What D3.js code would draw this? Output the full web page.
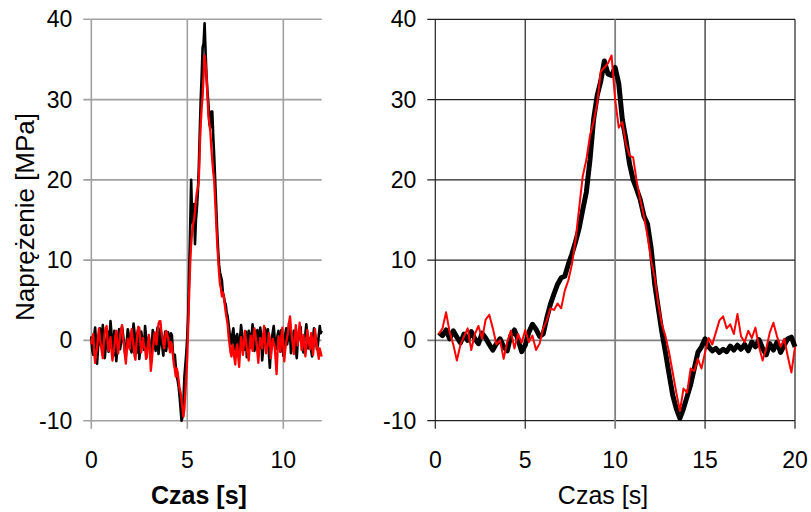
<!DOCTYPE html>
<html>
<head>
<meta charset="utf-8">
<script src="https://cdn.jsdelivr.net/npm/d3@7"></script>
<style>
  body { margin: 0; background: #fff; }
  svg { display: block; font-family: "Liberation Sans", Arial, sans-serif; }
</style>
</head>
<body>
<svg id="chart" width="811" height="512"></svg>
<script>
// y ticks shared by both panels
const yTicks = [-10, 0, 10, 20, 30, 40];

// left panel: samples every 0.05 s starting at 0 s
const leftStart = 0, leftStep = 0.05;
const leftTicks = [0, 5, 10];
const leftBlack = [
  // 0 - 4 s
  0.5, -1.2, -1.8, 0.6, 1.6, -0.4, -2.9, -1.0, 0.8, 1.5,
  -0.6, 0.2, 1.9, -0.8, -2.2, -0.9, 0.3, 1.1, -1.4, 0.4,
  2.4, 0.9, -0.9, -1.9, 1.2, 0.5, -2.6, -1.3, 0.6, 1.4,
  -1.1, -0.2, 1.7, 0.8, -0.3, -1.5, -2.0, -0.1, 1.4, 0.7,
  0.2, -0.9, -1.5, 0.5, 2.1, 1.0, -0.7, -1.6, 0.9, 1.5,
  -2.3, -1.1, 1.1, 0.3, -0.4, -1.2, 1.8, 0.6, -1.2, -0.5,
  0.4, -1.0, -2.4, -0.8, 1.3, 0.6, -0.2, -1.3, 0.7, 1.6,
  -1.7, -0.6, 1.5, 0.4, -0.8, -1.9, 0.1, 1.1, -1.3, -0.1,
  1.0,
  // 4.05 - 7.5 s
  0.2, -1.0, 0.9, 0.6, -1.5, -2.2, -1.8, -3.3, -4.5, -5.0,
  -5.8, -7.0, -8.5, -10.0, -9.6, -7.5, -4.5, -3.0, -1.5, 0.5,
  3.5, 9.0, 14.0, 20.0, 15.5, 14.5, 17.0, 12.0, 15.0, 16.5,
  18.5, 21.5, 26.0, 30.0, 33.0, 36.5, 37.0, 39.5, 36.0, 33.0,
  31.0, 29.5, 27.0, 26.5, 28.5, 28.5, 25.5, 23.0, 20.0, 17.0,
  14.0, 11.5, 9.5, 8.5, 8.0, 7.5, 6.0, 5.5, 4.8, 4.5,
  3.5, 3.0, 2.0, 1.0, 0.2, -0.5, 0.8, 1.5, -0.3, -1.2,
  // 7.55 - 12 s
  0.5, 0.8, -0.7, -1.6, 0.4, 1.9, 0.9, -0.4, -1.2, 0.3,
  1.1, -2.1, -0.8, 1.2, 0.4, -0.9, 0.6, 2.0, 0.7, -1.3,
  -0.4, 0.5, 1.3, -0.2, -1.0, 1.6, 0.6, -2.5, -1.1, 0.9,
  1.5, -0.7, 0.2, 1.4, -1.6, -3.4, -0.9, 0.2, 1.0, 1.8,
  0.3, -1.1, -0.4, 0.6, 1.2, -0.3, -1.4, 1.3, 0.5, -1.9,
  -0.6, 0.7, 1.5, -0.5, 0.4, 2.2, 0.8, -1.6, -0.7, 0.1,
  1.2, 1.0, -0.9, -2.2, -0.3, 0.4, 1.3, 1.7, -0.2, -0.8,
  -1.5, 0.3, 0.9, 2.0, 0.6, -1.0, -0.2, 0.3, -1.2, -2.0,
  0.4, 1.5, 0.8, 0.2, -1.1, -0.6, 0.7, 1.8, 0.9, 1.2
];
const leftRed = [
  // 0 - 4 s
  -0.5, 0.3, 0.8, -1.4, -2.8, -1.6, -1.0, 0.4, 1.5, 0.2,
  -0.6, -1.5, -2.2, -0.3, 0.9, 1.6, 1.8, -0.2, -1.3, -0.7,
  0.4, -1.2, -2.5, -1.6, -0.8, 0.5, 1.2, -0.4, -1.6, -0.5,
  0.6, 1.4, 1.9, 0.3, -0.4, -1.8, -2.9, -1.1, 0.2, -0.6,
  -1.1, 0.6, 1.4, 0.3, -0.7, -1.9, -2.4, -0.4, 0.8, 1.7,
  1.6, -0.2, -1.5, -0.6, 0.3, -0.9, -0.9, -2.3, -2.1, -0.4,
  0.7, -1.1, -3.8, -2.6, -1.2, -0.1, 1.0, 0.2, -0.5, 1.0,
  2.1, 2.4, 2.4, 1.1, 0.5, -0.4, -1.0, 0.4, 1.2, 0.8,
  0.3,
  // 4.05 - 7.5 s
  -0.6, -1.5, -0.2, -0.5, -1.8, -3.0, -3.6, -4.5, -3.5, -4.0,
  -5.0, -6.0, -6.5, -7.5, -8.5, -9.5, -8.5, -6.5, -4.5, -2.0,
  2.0, 6.0, 9.5, 12.0, 13.5, 14.5, 15.0, 16.0, 17.5, 18.5,
  19.0, 20.0, 24.0, 27.0, 29.0, 30.5, 33.0, 35.5, 34.5, 33.0,
  30.5, 28.0, 27.0, 26.0, 24.0, 22.5, 21.0, 20.0, 17.5, 15.0,
  12.5, 10.5, 8.5, 7.0, 6.5, 5.5, 6.0, 5.5, 4.5, 3.5,
  2.8, 2.0, 0.5, -0.5, -1.5, -2.0, -0.6, -1.0, -2.2, -3.0,
  // 7.55 - 12 s
  -1.2, -0.5, -2.0, -3.3, -1.4, 0.4, -0.6, -1.8, -0.3, 1.2,
  0.1, -0.9, -1.7, -2.5, -0.8, 0.6, -0.4, -1.3, 0.5, 1.5,
  0.7, -0.2, -1.5, -2.8, -0.9, 0.3, -0.2, -1.0, 0.6, 1.8,
  -0.3, -1.6, -0.9, -0.4, 0.9, 0.1, -2.2, -1.1, 0.2, -0.3,
  -0.8, -2.4, -4.2, -1.5, 0.5, -0.5, -1.4, 0.6, 1.6, -0.8,
  -2.6, -1.2, -0.3, 0.4, 1.1, 2.2, 3.0, 1.5, 0.4, -0.6,
  -1.7, 0.3, 1.9, 0.7, -0.6, 0.8, 2.2, 0.9, -1.2, -0.4,
  0.7, -0.6, -2.0, -0.8, 1.3, 0.4, -0.5, -1.1, 0.9, 0.2,
  -1.8, -0.5, 1.4, 0.3, -0.7, -1.5, -2.3, -1.0, -1.5, -2.0
];

// right panel: samples every 0.2 s starting at 0.2 s
const rightStart = 0.2, rightStep = 0.2;
const rightTicks = [0, 5, 10, 15, 20];
const rightBlack = [
  1.0, 0.6, 1.3, 0.2, 1.2, 0.4, -0.3, 0.8, 0.0, 1.1,
  0.2, -0.4, 0.9, 0.3, -0.5, -1.2, -0.4, 0.2, -0.8, -1.3,
  0.6, 1.3, 0.1, -1.4, -0.6, 1.0, 2.0, 1.4, 0.5, 0.8,
  2.8, 4.5, 5.8, 7.0, 7.8, 8.0, 9.5, 10.8, 12.3, 14.0,
  16.3, 18.5, 22.5, 27.5, 30.5, 32.3, 34.8, 33.2, 33.0, 34.0,
  32.0, 27.5, 25.0, 22.0, 20.0, 18.8, 17.5, 15.5, 14.5, 11.5,
  7.0, 4.0, 1.0, -1.5, -4.2, -6.8, -8.5, -9.7, -8.5, -7.0,
  -5.5, -3.5, -1.5, -0.8, 0.2, -0.8, -1.3, -1.0, -1.5, -1.1,
  -1.4, -0.7, -1.2, -0.6, -1.1, -0.5, -1.3, -0.2, -0.8, 0.1,
  -1.0, -1.8, -0.4, -1.2, -0.2, -1.5, -0.6, 0.2, 0.4, -0.8
];
const rightRed = [
  0.8, 1.5, 3.5, 1.0, -0.5, -2.5, -0.5, 0.5, 1.5, -1.2,
  0.8, 1.8, 0.2, 2.6, 3.2, 1.5, -0.5, 0.0, -2.3, -0.2,
  1.2, -1.0, 0.8, -0.3, 1.3, -0.2, 0.6, -1.2, -0.4, 1.5,
  2.5, 4.0, 3.8, 4.6, 4.0, 6.2, 7.5, 9.5, 12.5, 16.5,
  20.5, 22.5, 25.5, 27.2, 29.5, 33.5, 34.0, 34.5, 35.5, 30.0,
  26.5, 27.2, 24.5, 23.0, 22.8, 19.8, 17.5, 15.5, 13.0, 10.0,
  7.8, 4.5, 2.0, 0.5, -1.5, -4.0, -6.5, -8.8, -6.0, -6.5,
  -3.5, -3.8, -2.3, -3.5, -1.5, 0.3, -0.5, 1.0, 2.5, 3.0,
  1.5, 2.0, 0.8, 3.3, 0.5, -0.2, 1.2, 0.3, 1.6, -0.8,
  -2.5, -1.0, 1.0, 2.2, 0.5, -0.8, 0.2, -2.0, -4.0, -0.8
];

const svg = d3.select('#chart');
const font = 23;

const y = d3.scaleLinear().domain([-10, 40]).range([420.7, 19.3]);

function toPoints(values, start, step) {
  return values.map((v, i) => [start + i * step, v]);
}

function drawPanel(cfg) {
  const x = d3.scaleLinear().domain(cfg.domain).range(cfg.range);
  const [x0, x1] = cfg.range;
  const g = svg.append('g');

  // horizontal grid
  g.append('g')
    .selectAll('line')
    .data(yTicks)
    .join('line')
    .attr('x1', x0 - 8).attr('x2', x1)
    .attr('y1', d => y(d)).attr('y2', d => y(d))
    .attr('stroke', d => (cfg.greyY.includes(d) ? cfg.greyColor : cfg.gridColor))
    .attr('stroke-width', d => (cfg.greyY.includes(d) ? cfg.greyWidth : cfg.gridWidth));

  // vertical grid
  g.append('g')
    .selectAll('line')
    .data(cfg.ticks)
    .join('line')
    .attr('x1', d => x(d)).attr('x2', d => x(d))
    .attr('y1', y(40)).attr('y2', y(-10) + 8)
    .attr('stroke', d => (cfg.greyX.includes(d) ? cfg.greyColor : cfg.gridColor))
    .attr('stroke-width', d => (cfg.greyX.includes(d) ? cfg.greyWidth : cfg.gridWidth));

  // y tick labels
  g.append('g')
    .selectAll('text')
    .data(yTicks)
    .join('text')
    .attr('x', x0 - 19)
    .attr('y', d => y(d))
    .attr('dy', '0.35em')
    .attr('text-anchor', 'end')
    .attr('font-size', font)
    .attr('fill', '#000')
    .text(d => d);

  // x tick labels
  g.append('g')
    .selectAll('text')
    .data(cfg.ticks)
    .join('text')
    .attr('x', d => x(d))
    .attr('y', 468)
    .attr('text-anchor', 'middle')
    .attr('font-size', font)
    .attr('fill', '#000')
    .text(d => d);

  const line = d3.line().x(d => x(d[0])).y(d => y(d[1]));

  cfg.series.forEach(s => {
    g.append('path')
      .datum(toPoints(s.values, cfg.start, cfg.step))
      .attr('d', line)
      .attr('fill', 'none')
      .attr('stroke', s.color)
      .attr('stroke-width', s.width)
      .attr('stroke-linejoin', 'round');
  });

  g.append('text')
    .attr('x', cfg.labelX)
    .attr('y', 504)
    .attr('text-anchor', 'middle')
    .attr('font-size', 25)
    .attr('font-weight', cfg.labelBold ? 'bold' : 'normal')
    .attr('fill', '#000')
    .text('Czas [s]');
}

drawPanel({
  domain: [0, 12], range: [91.3, 321.7], ticks: leftTicks,
  start: leftStart, step: leftStep,
  gridColor: '#a0a0a0', gridWidth: 1.6, greyColor: '#a0a0a0', greyWidth: 1.6,
  greyX: [], greyY: [],
  series: [
    { values: leftBlack, color: '#000', width: 2.6 },
    { values: leftRed, color: '#ff0000', width: 2.3 }
  ],
  labelX: 199, labelBold: true
});

drawPanel({
  domain: [0, 20], range: [435.3, 795], ticks: rightTicks,
  start: rightStart, step: rightStep,
  gridColor: '#222', gridWidth: 1.2, greyColor: '#808080', greyWidth: 1.8,
  greyX: [10], greyY: [0],
  series: [
    { values: rightBlack, color: '#000', width: 5 },
    { values: rightRed, color: '#ff0000', width: 2 }
  ],
  labelX: 603, labelBold: false
});

// y axis title
svg.append('text')
  .attr('transform', 'translate(34,217) rotate(-90)')
  .attr('text-anchor', 'middle')
  .attr('font-size', 26)
  .attr('fill', '#000')
  .text('Naprężenie [MPa]');
</script>
</body>
</html>
